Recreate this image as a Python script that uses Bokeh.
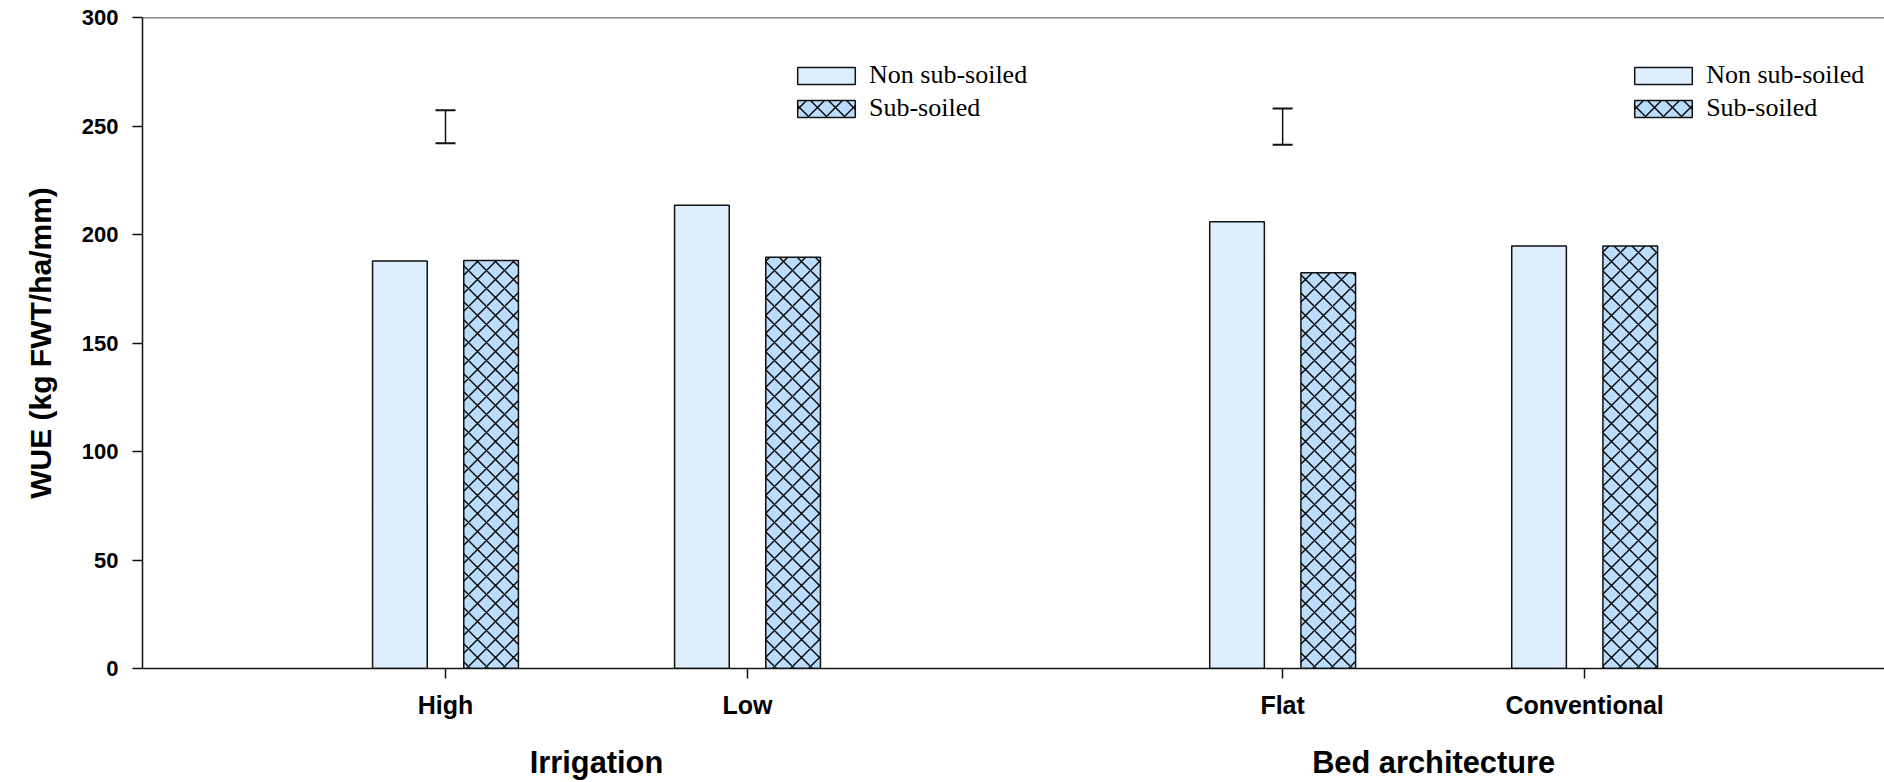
from bokeh.plotting import figure
from bokeh.models import (ColumnDataSource, Range1d, FixedTicker, Span, Whisker, TeeHead,
                          Legend, LegendItem, LinearAxis)
from bokeh.transform import dodge
from bokeh.embed import file_html
from bokeh.resources import INLINE

# ---------------- data ----------------
groups = ["Irrigation", "Bed architecture"]
categories = ["High", "Low", "Flat", "Conventional"]
category_group = ["Irrigation", "Irrigation", "Bed architecture", "Bed architecture"]
series = ["Non sub-soiled", "Sub-soiled"]
non_subsoiled = [187.8, 213.5, 205.9, 194.7]
subsoiled = [188.0, 189.5, 182.4, 194.7]
lsd_group = ["Irrigation", "Bed architecture"]
lsd_lower = [242.1, 241.4]
lsd_upper = [257.3, 258.1]
y_ticks = [0, 50, 100, 150, 200, 250, 300]
y_label = "WUE (kg FWT/ha/mm)"

# ---------------- layout ----------------
GROUP_GAP = 0.772
pos = []
for i, c in enumerate(categories):
    g = groups.index(category_group[i])
    pos.append(round(1 + i + g * GROUP_GAP, 3))

group_mid = []
group_first = []
for g in groups:
    ps = [pos[i] for i in range(len(categories)) if category_group[i] == g]
    group_mid.append(round(sum(ps) / len(ps), 3))
    group_first.append(ps[0])

W, H = 1884, 782
LEFT, TOP, BOTTOM = 142, 17, 113
PX_PER_UNIT = 302.0
FRAME_W = W - LEFT
x0 = 1 - 303 / PX_PER_UNIT
x1 = x0 + FRAME_W / PX_PER_UNIT

FONT = "Liberation Sans"
AX = "#111111"

p = figure(width=W, height=H, x_range=Range1d(x0, x1), y_range=Range1d(0, 300),
           output_backend="svg", toolbar_location=None,
           min_border_left=LEFT, min_border_right=0, min_border_top=TOP,
           min_border_bottom=BOTTOM)
p.outline_line_color = None
p.xgrid.visible = False
p.ygrid.visible = False
p.background_fill_color = "white"
p.border_fill_color = "white"

# y axis
ya = p.yaxis[0]
ya.ticker = FixedTicker(ticks=y_ticks)
ya.minor_tick_line_color = None
ya.major_tick_in = 0
ya.major_tick_out = 10
ya.axis_line_width = 1.5
ya.major_tick_line_width = 1.5
ya.axis_line_color = AX
ya.major_tick_line_color = AX
ya.major_label_text_font = FONT
ya.major_label_text_font_style = "bold"
ya.major_label_text_font_size = "22px"
ya.major_label_text_color = "black"
ya.major_label_standoff = 14
ya.axis_label = y_label
ya.axis_label_text_font = FONT
ya.axis_label_text_font_style = "bold"
ya.axis_label_text_font_size = "30px"
ya.axis_label_text_color = "black"
ya.axis_label_standoff = 22

# x axis (categories)
xa = p.xaxis[0]
xa.ticker = FixedTicker(ticks=pos)
xa.major_label_overrides = {pos[i]: categories[i] for i in range(len(categories))}
xa.minor_tick_line_color = None
xa.major_tick_in = 0
xa.major_tick_out = 10
xa.axis_line_width = 1.5
xa.major_tick_line_width = 1.5
xa.axis_line_color = AX
xa.major_tick_line_color = AX
xa.major_label_text_font = FONT
xa.major_label_text_font_style = "bold"
xa.major_label_text_font_size = "25px"
xa.major_label_text_color = "black"
xa.major_label_standoff = 12

# second x axis carrying the group titles
ga = LinearAxis(ticker=FixedTicker(ticks=group_mid),
                major_label_overrides={group_mid[k]: groups[k] for k in range(len(groups))},
                axis_line_color=None, major_tick_line_color=None, minor_tick_line_color=None,
                major_tick_in=0, major_tick_out=0,
                major_label_text_font=FONT, major_label_text_font_style="bold",
                major_label_text_font_size="30.8px", major_label_text_color="black",
                major_label_standoff=23)
p.add_layout(ga, "below")

# top frame line
p.add_layout(Span(location=300, dimension="width", line_color=AX, line_width=1.5))

# bars
src = ColumnDataSource(dict(x=pos, non=non_subsoiled, sub=subsoiled))
OFF = 0.151
BW = 0.181
r_non = p.vbar(x=dodge("x", -OFF, range=p.x_range), top="non", width=BW, source=src,
               fill_color="#DEEEFE", line_color=AX, line_width=1.5)
r_sub = p.vbar(x=dodge("x", OFF, range=p.x_range), top="sub", width=BW, source=src,
               fill_color="#BCDCFC", line_color=AX, line_width=1.5,
               hatch_pattern="diagonal_cross", hatch_scale=18, hatch_color="black",
               hatch_weight=1.4)

# LSD error bars
err_src = ColumnDataSource(dict(base=[group_first[groups.index(g)] for g in lsd_group],
                                lower=lsd_lower, upper=lsd_upper))
p.add_layout(Whisker(base="base", lower="lower", upper="upper", source=err_src,
                     dimension="height", line_color=AX, line_width=1.5,
                     upper_head=TeeHead(size=20, line_color=AX, line_width=2),
                     lower_head=TeeHead(size=20, line_color=AX, line_width=2)))

# legends (one per panel)
for k, g in enumerate(groups):
    lx = (group_first[k] - x0) * PX_PER_UNIT + 345
    leg = Legend(items=[LegendItem(label=series[0], renderers=[r_non]),
                        LegendItem(label=series[1], renderers=[r_sub])],
                 location=(lx, 545), orientation="vertical",
                 glyph_width=72, glyph_height=21, label_standoff=7, spacing=3,
                 padding=0, margin=0, border_line_color=None, background_fill_alpha=0,
                 label_text_font="Liberation Serif", label_text_font_size="26px",
                 label_text_color="black")
    p.add_layout(leg)

open("out.html", "w").write(file_html(p, INLINE))
